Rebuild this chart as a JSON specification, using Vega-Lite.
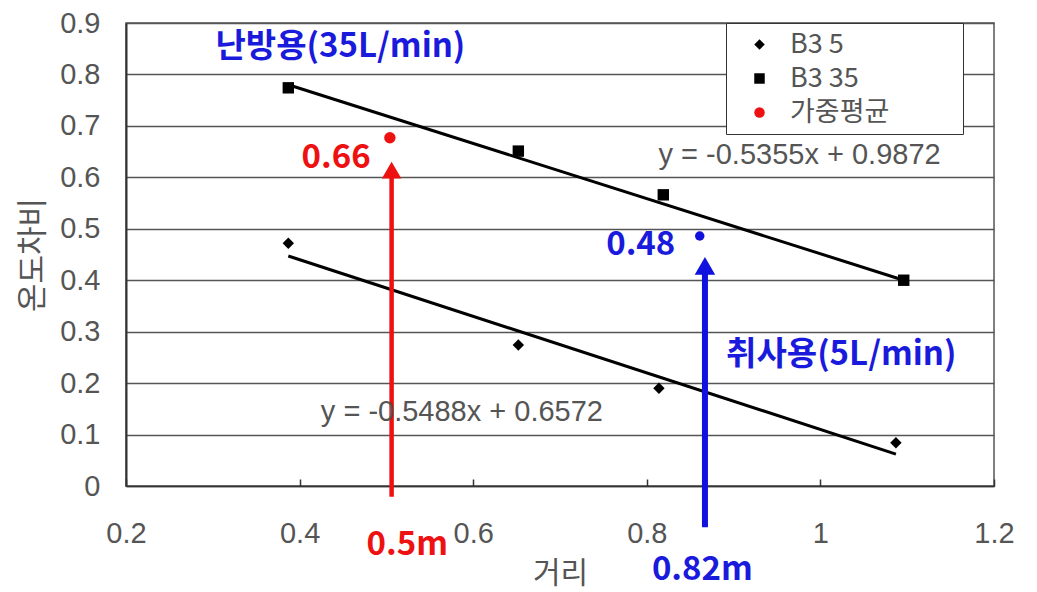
{
  "$schema": "https://vega.github.io/schema/vega-lite/v6.json",
  "width": 868,
  "height": 463,
  "autosize": {"type": "none"},
  "padding": {"left": 126, "top": 23, "right": 43, "bottom": 106},
  "background": "white",
  "config": {
    "view": {"stroke": "#555", "strokeWidth": 1.5},
    "font": "Liberation Sans",
    "legend": {
      "strokeColor": "#333", "fillColor": "white", "padding": 8,
      "labelFont": "Noto Sans CJK KR", "labelFontSize": 27, "labelColor": "#555", "labelLimit": 300,
      "symbolSize": 110, "symbolOffset": 12, "labelOffset": 17, "rowPadding": 6,
      "titleOrient": "right", "titleOpacity": 0, "titleFontSize": 30, "titlePadding": 10, "titleFont": "Noto Sans CJK KR"
    }
  },
  "datasets": {
    "pts": [
      {"series": "B3 5", "x": 0.387, "y": 0.472},
      {"series": "B3 5", "x": 0.652, "y": 0.274},
      {"series": "B3 5", "x": 0.814, "y": 0.19},
      {"series": "B3 5", "x": 1.087, "y": 0.084},
      {"series": "B3 35", "x": 0.387, "y": 0.774},
      {"series": "B3 35", "x": 0.652, "y": 0.651},
      {"series": "B3 35", "x": 0.819, "y": 0.566},
      {"series": "B3 35", "x": 1.096, "y": 0.4},
      {"series": "가중평균", "x": 0.504, "y": 0.677}
    ],
    "trend": [
      {"trend": "B3 35", "x": 0.387, "y": 0.78},
      {"trend": "B3 35", "x": 1.096, "y": 0.4},
      {"trend": "B3 5", "x": 0.387, "y": 0.447},
      {"trend": "B3 5", "x": 1.087, "y": 0.062}
    ],
    "blue": [{"x": 0.861, "y": 0.486}],
    "redArrow": [{"x": 0.506, "y": -0.021, "y2": 0.61, "tip": 0.614}],
    "blueArrow": [{"x": 0.867, "y": -0.08, "y2": 0.42, "tip": 0.428}],
    "blueText": [
      {"label": "난방용(35L/min)", "x": 0.447, "y": 0.853},
      {"label": "취사용(5L/min)", "x": 1.024, "y": 0.255},
      {"label": "0.48", "x": 0.793, "y": 0.468},
      {"label": "0.82m", "x": 0.864, "y": -0.163}
    ],
    "redText": [
      {"label": "0.66", "x": 0.442, "y": 0.638},
      {"label": "0.5m", "x": 0.524, "y": -0.115}
    ],
    "eqText": [
      {"label": "y = -0.5355x + 0.9872", "x": 0.976, "y": 0.643},
      {"label": "y = -0.5488x + 0.6572", "x": 0.587, "y": 0.144}
    ]
  },
  "layer": [
    {
      "data": {"name": "trend"},
      "mark": {"type": "line", "color": "black", "strokeWidth": 3},
      "encoding": {
        "x": {"field": "x", "type": "quantitative",
          "scale": {"domain": [0.2, 1.2], "nice": false, "zero": false},
          "axis": {"values": [0.2, 0.4, 0.6, 0.8, 1, 1.2], "format": "~g", "grid": false, "labelFlush": false,
            "domainColor": "#333", "domainWidth": 1.5, "tickColor": "#333", "tickSize": -7, "tickWidth": 1.5,
            "labelFontSize": 29, "labelColor": "#555", "labelPadding": 40,
            "title": "거리", "titleFont": "Noto Sans CJK KR", "titleFontWeight": "normal", "titleFontSize": 30, "titleColor": "#555", "titlePadding": 10}},
        "y": {"field": "y", "type": "quantitative",
          "scale": {"domain": [0, 0.9], "nice": false},
          "axis": {"values": [0, 0.1, 0.2, 0.3, 0.4, 0.5, 0.6, 0.7, 0.8, 0.9], "format": "~g",
            "grid": true, "gridColor": "#555", "gridWidth": 1.5, "ticks": false,
            "domainColor": "#333", "domainWidth": 2,
            "labelFontSize": 29, "labelColor": "#555", "labelPadding": 26,
            "title": "온도차비", "titleFont": "Noto Sans CJK KR", "titleFontWeight": "normal", "titleFontSize": 31, "titleColor": "#555", "titlePadding": 10}},
        "detail": {"field": "trend"}
      }
    },
    {
      "data": {"name": "pts"},
      "mark": {"type": "point", "filled": true, "opacity": 1, "size": 130},
      "encoding": {
        "x": {"field": "x", "type": "quantitative"},
        "y": {"field": "y", "type": "quantitative"},
        "shape": {"field": "series", "type": "nominal",
          "scale": {"domain": ["B3 5", "B3 35", "가중평균"], "range": ["diamond", "square", "circle"]},
          "legend": {"title": "가중", "orient": "none", "legendX": 600, "legendY": 0, "labelFontSize": 27,
            "encode": {"labels": {"update": {"fontSize": {"value": 27}}}, "legend": {"update": {"strokeWidth": {"value": 1.5}}}}}},
        "color": {"field": "series", "type": "nominal",
          "scale": {"domain": ["B3 5", "B3 35", "가중평균"], "range": ["black", "black", "#ee1111"]},
          "legend": {"title": "가중", "orient": "none", "legendX": 600, "legendY": 0, "labelFontSize": 27,
            "encode": {"labels": {"update": {"fontSize": {"value": 27}}}, "legend": {"update": {"strokeWidth": {"value": 1.5}}}}}}
      }
    },
    {
      "data": {"name": "blue"},
      "mark": {"type": "point", "filled": true, "opacity": 1, "shape": "circle", "color": "#1111dd", "size": 90},
      "encoding": {
        "x": {"field": "x", "type": "quantitative"},
        "y": {"field": "y", "type": "quantitative"}
      }
    },
    {
      "data": {"name": "redArrow"},
      "mark": {"type": "rule", "color": "#ee1111", "strokeWidth": 4.5},
      "encoding": {
        "x": {"field": "x", "type": "quantitative"},
        "y": {"field": "y", "type": "quantitative"},
        "y2": {"field": "y2"}
      }
    },
    {
      "data": {"name": "redArrow"},
      "mark": {"type": "point", "filled": true, "opacity": 1, "shape": "triangle-up", "color": "#ee1111", "size": 380},
      "encoding": {
        "x": {"field": "x", "type": "quantitative"},
        "y": {"field": "tip", "type": "quantitative"}
      }
    },
    {
      "data": {"name": "blueArrow"},
      "mark": {"type": "rule", "color": "#1111dd", "strokeWidth": 6},
      "encoding": {
        "x": {"field": "x", "type": "quantitative"},
        "y": {"field": "y", "type": "quantitative"},
        "y2": {"field": "y2"}
      }
    },
    {
      "data": {"name": "blueArrow"},
      "mark": {"type": "point", "filled": true, "opacity": 1, "shape": "triangle-up", "color": "#1111dd", "size": 420},
      "encoding": {
        "x": {"field": "x", "type": "quantitative"},
        "y": {"field": "tip", "type": "quantitative"}
      }
    },
    {
      "data": {"name": "blueText"},
      "mark": {"type": "text", "color": "#1a1adc", "font": "Noto Sans CJK KR", "fontWeight": "bold", "fontSize": 33, "align": "center", "baseline": "middle"},
      "encoding": {
        "x": {"field": "x", "type": "quantitative"},
        "y": {"field": "y", "type": "quantitative"},
        "text": {"field": "label"}
      }
    },
    {
      "data": {"name": "redText"},
      "mark": {"type": "text", "color": "#ee1111", "font": "Noto Sans CJK KR", "fontWeight": "bold", "fontSize": 33, "align": "center", "baseline": "middle"},
      "encoding": {
        "x": {"field": "x", "type": "quantitative"},
        "y": {"field": "y", "type": "quantitative"},
        "text": {"field": "label"}
      }
    },
    {
      "data": {"name": "eqText"},
      "mark": {"type": "text", "color": "#555", "font": "Liberation Sans", "fontSize": 29, "align": "center", "baseline": "middle"},
      "encoding": {
        "x": {"field": "x", "type": "quantitative"},
        "y": {"field": "y", "type": "quantitative"},
        "text": {"field": "label"}
      }
    }
  ]
}
